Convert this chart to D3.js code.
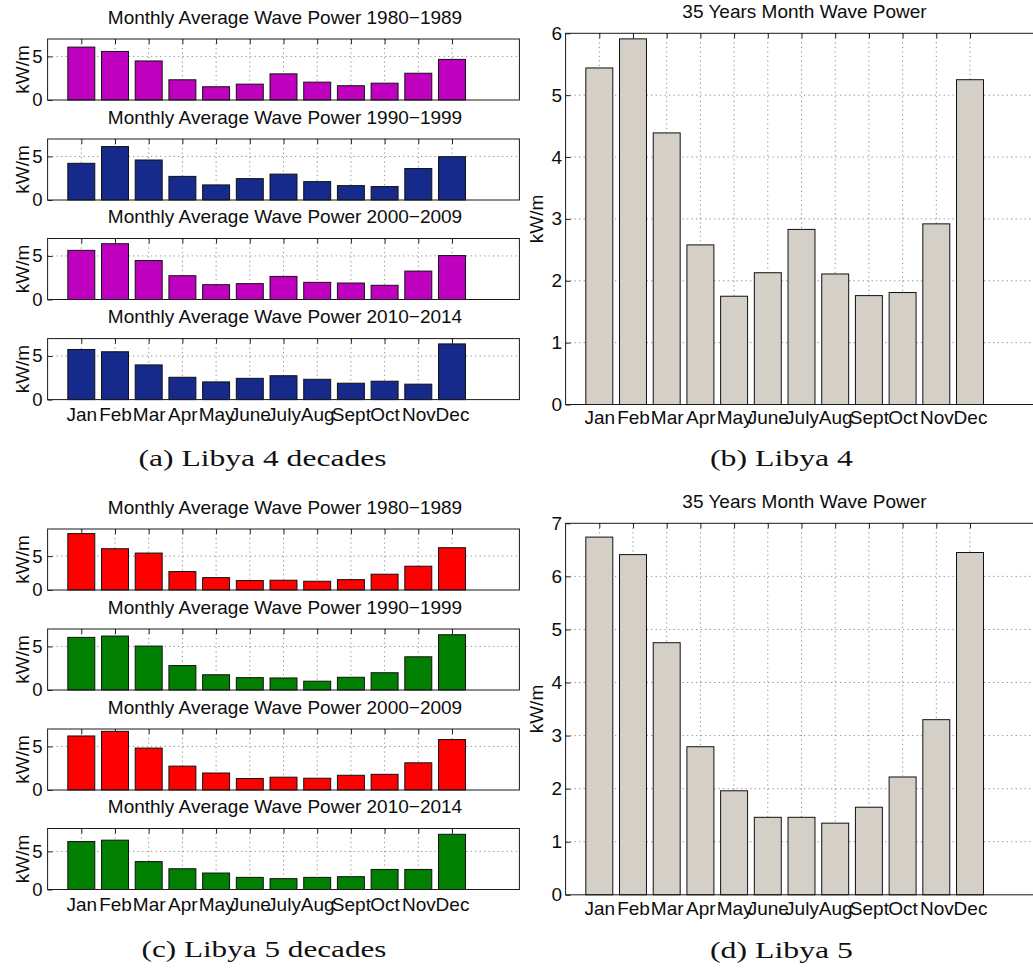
<!DOCTYPE html>
<html>
<head>
<meta charset="utf-8">
<script src="https://cdn.jsdelivr.net/npm/d3@7"></script>
<style>
  body { margin: 0; background: #fff; }
  svg { display: block; }
  text { font-family: "Liberation Sans", Arial, sans-serif; fill: #0d0d0d; }
  .grid { stroke: #8a8a8a; stroke-width: 1; stroke-dasharray: 1.2 3.3; }
  .caption { font-family: "Liberation Serif", "Times New Roman", serif; fill: #111; }
</style>
</head>
<body>
<svg id="fig" width="1033" height="972"></svg>
<script>
// Month names on the x axis
const months = ["Jan", "Feb", "Mar", "Apr", "May", "June", "July", "Aug", "Sept", "Oct", "Nov", "Dec"];

// Decade titles
const decadeTitles = [
  "Monthly Average Wave Power 1980\u22121989",
  "Monthly Average Wave Power 1990\u22121999",
  "Monthly Average Wave Power 2000\u22122009",
  "Monthly Average Wave Power 2010\u22122014"
];
const totalTitle = "35 Years Month Wave Power";
const yLabel = "kW/m";

// Libya 4: monthly average wave power per decade (kW/m)
const libya4_1980s = [6.07, 5.57, 4.48, 2.32, 1.52, 1.82, 3.00, 2.05, 1.64, 1.93, 3.07, 4.66];
const libya4_1990s = [4.21, 6.13, 4.59, 2.71, 1.73, 2.45, 2.97, 2.11, 1.65, 1.54, 3.61, 4.97];
const libya4_2000s = [5.64, 6.40, 4.47, 2.73, 1.70, 1.82, 2.65, 1.97, 1.89, 1.63, 3.26, 5.04];
const libya4_2010s = [5.75, 5.49, 3.98, 2.56, 2.03, 2.44, 2.74, 2.33, 1.88, 2.11, 1.77, 6.39];
// Libya 4: 35-year monthly mean
const libya4_total = [5.44, 5.91, 4.39, 2.58, 1.75, 2.13, 2.83, 2.11, 1.76, 1.81, 2.92, 5.25];

// Libya 5: monthly average wave power per decade (kW/m)
const libya5_1980s = [8.32, 6.09, 5.45, 2.72, 1.83, 1.39, 1.44, 1.29, 1.53, 2.33, 3.51, 6.24];
const libya5_1990s = [6.04, 6.19, 5.04, 2.80, 1.75, 1.42, 1.38, 1.01, 1.46, 1.98, 3.81, 6.34];
const libya5_2000s = [6.20, 6.73, 4.81, 2.74, 1.95, 1.32, 1.47, 1.35, 1.69, 1.80, 3.12, 5.79];
const libya5_2010s = [6.29, 6.47, 3.66, 2.72, 2.16, 1.59, 1.42, 1.59, 1.68, 2.63, 2.63, 7.24];
// Libya 5: 35-year monthly mean
const libya5_total = [6.74, 6.41, 4.75, 2.79, 1.96, 1.46, 1.46, 1.35, 1.65, 2.22, 3.30, 6.45];

// Sub-figure captions
const captions = ["(a) Libya 4 decades", "(b) Libya 4", "(c) Libya 5 decades", "(d) Libya 5"];

// Bar colours
const magenta = "#bf00bf", navy = "#152a8a", red = "#ff0000", green = "#007f00", grey = "#d4d0c8";

const svg = d3.select("#fig");
svg.append("rect").attr("width", 1033).attr("height", 972).attr("fill", "#fff");

function barChart(o) {
  const g = svg.append("g");
  const x = d3.scaleLinear().domain([0, 14]).range([o.left, o.left + o.width]);
  const y = d3.scaleLinear().domain([0, o.ymax]).range([o.top + o.height, o.top]);
  const pos = months.map((m, i) => i + 1);

  // dotted grid
  g.append("g").selectAll("line").data(pos).join("line")
    .attr("class", "grid")
    .attr("x1", d => x(d)).attr("x2", d => x(d))
    .attr("y1", o.top).attr("y2", o.top + o.height);
  g.append("g").selectAll("line").data(o.yticks.filter(v => v > 0 && v < o.ymax)).join("line")
    .attr("class", "grid")
    .attr("x1", o.left).attr("x2", o.left + o.width)
    .attr("y1", d => y(d)).attr("y2", d => y(d));

  // inward ticks: top, bottom, left
  const top = g.append("g").attr("transform", `translate(0,${o.top})`)
    .call(d3.axisTop(x).tickValues(pos).tickSize(-5).tickSizeOuter(0).tickFormat(""));
  const bottom = g.append("g").attr("transform", `translate(0,${o.top + o.height})`)
    .call(d3.axisBottom(x).tickValues(pos).tickSize(-5).tickSizeOuter(0)
      .tickPadding(o.monthPad)
      .tickFormat((d, i) => o.showMonths ? months[i] : ""));
  const left = g.append("g").attr("transform", `translate(${o.left},0)`)
    .call(d3.axisLeft(y).tickValues(o.yticks).tickSize(-5).tickSizeOuter(0)
      .tickPadding(o.yPad).tickFormat(d3.format("d")));
  [top, bottom, left].forEach(a => {
    a.select(".domain").remove();
    a.selectAll(".tick line").attr("stroke", "#222");
    a.selectAll("text").attr("fill", "#0d0d0d").attr("font-family", "Liberation Sans, Arial, sans-serif");
  });
  bottom.selectAll("text").attr("font-size", o.monthSize);
  left.selectAll("text").attr("font-size", o.tickSize);

  // bars
  g.append("g").selectAll("rect").data(o.values).join("rect")
    .attr("x", (d, i) => x(i + 1 - 0.4))
    .attr("width", x(0.8) - x(0))
    .attr("y", d => y(d))
    .attr("height", d => y(0) - y(d))
    .attr("fill", o.color)
    .attr("stroke", "#111")
    .attr("stroke-width", 1);

  // axes box
  g.append("rect")
    .attr("x", o.left).attr("y", o.top)
    .attr("width", o.width).attr("height", o.height)
    .attr("fill", "none").attr("stroke", "#1a1a1a").attr("stroke-width", 1);

  // title
  g.append("text")
    .attr("x", o.left + o.width / 2 + o.titleShift).attr("y", o.top - 15.5)
    .attr("text-anchor", "middle").attr("font-size", o.titleSize)
    .text(o.title);

  // y label
  g.append("text")
    .attr("transform", `translate(${o.labelX},${o.top + o.height / 2}) rotate(-90)`)
    .attr("text-anchor", "middle").attr("font-size", o.labelSize)
    .text(yLabel);
}

// Small decade panels
const smallLeft = 47.6, smallWidth = 471.8, smallHeight = 61;
const smallCommon = {
  left: smallLeft, width: smallWidth, height: smallHeight, yticks: [0, 5],
  monthPad: 8, yPad: 5, titleSize: 19, monthSize: 19, tickSize: 18.5, labelSize: 19,
  labelX: 28.5, titleShift: 1.5
};

const panelA = [libya4_1980s, libya4_1990s, libya4_2000s, libya4_2010s];
const panelAColors = [magenta, navy, magenta, navy];
const panelATops = [39, 139, 238.5, 338.6];
const panelAMax = [7, 7, 7, 7];
panelA.forEach((vals, k) => barChart(Object.assign({}, smallCommon, {
  top: panelATops[k], ymax: panelAMax[k], values: vals, color: panelAColors[k],
  title: decadeTitles[k], showMonths: k === 3
})));

const panelC = [libya5_1980s, libya5_1990s, libya5_2000s, libya5_2010s];
const panelCColors = [red, green, red, green];
const panelCTops = [529, 629, 729, 828.5];
const panelCMax = [9, 7, 7, 8];
panelC.forEach((vals, k) => barChart(Object.assign({}, smallCommon, {
  top: panelCTops[k], ymax: panelCMax[k], values: vals, color: panelCColors[k],
  title: decadeTitles[k], showMonths: k === 3
})));

// 35-year panels
const bigCommon = {
  left: 565.6, width: 471.8, yPad: 3.5, monthPad: 6.5, titleSize: 19, monthSize: 19,
  tickSize: 19, labelSize: 19, labelX: 543, titleShift: 3,
  color: grey, title: totalTitle, showMonths: true
};
barChart(Object.assign({}, bigCommon, {
  top: 33.3, height: 371.2, ymax: 6, yticks: [0, 1, 2, 3, 4, 5, 6], values: libya4_total
}));
barChart(Object.assign({}, bigCommon, {
  top: 523.3, height: 371.5, ymax: 7, yticks: [0, 1, 2, 3, 4, 5, 6, 7], values: libya5_total
}));

// captions
const capCenters = [262.5, 781.5, 264, 781.5];
const capBaselines = [466, 466, 957, 958];
const capWidths = [248, 143, 245, 143];
captions.forEach((c, i) => {
  svg.append("text")
    .attr("class", "caption")
    .attr("x", capCenters[i] - capWidths[i] / 2)
    .attr("y", capBaselines[i])
    .attr("font-size", 23)
    .attr("textLength", capWidths[i])
    .attr("lengthAdjust", "spacingAndGlyphs")
    .text(c);
});
</script>
</body>
</html>
